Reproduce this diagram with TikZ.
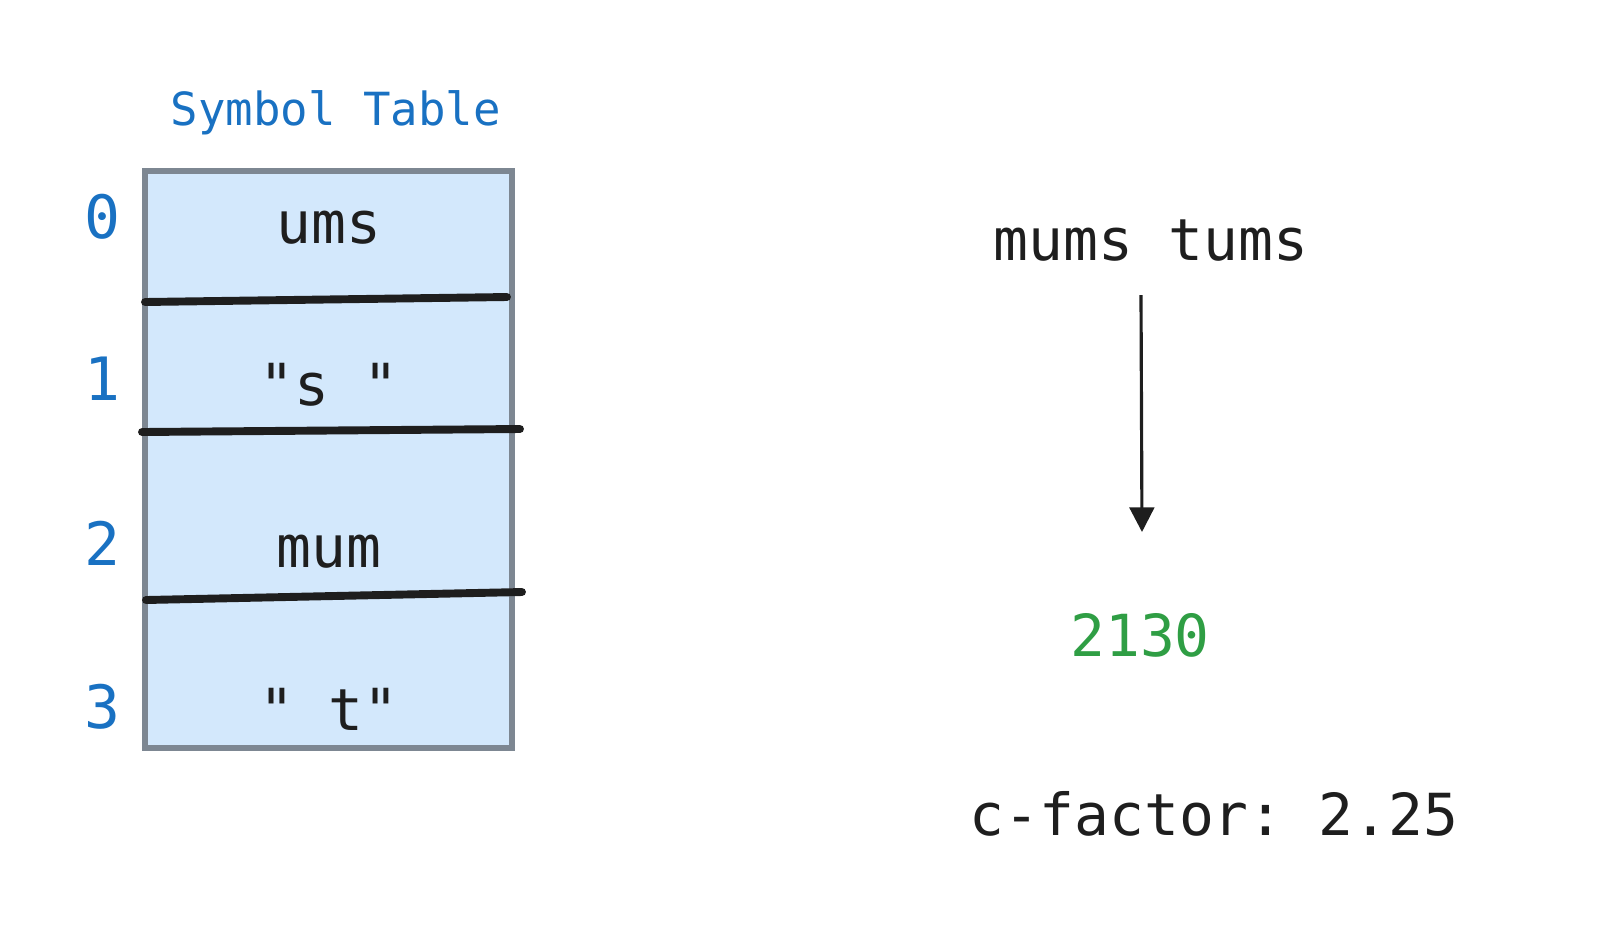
\documentclass[tikz,border=0pt]{standalone}
\usepackage{fontspec}
\setmonofont{DejaVu Sans Mono}
\usetikzlibrary{arrows.meta}

\definecolor{inkblue}{HTML}{1971C2}
\definecolor{inkgreen}{HTML}{2F9E44}
\definecolor{inkdark}{HTML}{1E1E1E}
\definecolor{cellfill}{HTML}{D3E8FC}
\definecolor{cellrim}{HTML}{7D8792}

\begin{document}
\begin{tikzpicture}[x=0.02cm, y=-0.02cm,
	txt/.style={inner sep=0, anchor=base, font=\ttfamily\fontsize{33}{40}\selectfont, text=inkdark},
	idx/.style={txt, text=inkblue, font=\ttfamily\fontsize{34}{40}\selectfont},
	divider/.style={draw=inkdark, line width=4.5pt, line cap=round}]
	\useasboundingbox (0,0) rectangle (1600,938);
	\coordinate (NW) at (145,171);
	\coordinate (SE) at (512,748);

	\draw [fill=cellfill, draw=cellrim, line width=3pt] (NW) rectangle (SE);
	\draw [divider] (145,302) -- (507,297);
	\draw [divider] (142,432) -- (520,429);
	\draw [divider] (146,600) -- (522,592);

	\node [txt, text=inkblue, font=\ttfamily\fontsize{26}{30}\selectfont] (title) at (336,125) {Symbol Table};

	\node [idx] (idx0) at (102,238) {0};
	\node [idx] (idx1) at (102,400) {1};
	\node [idx] (idx2) at (102,565) {2};
	\node [idx] (idx3) at (102,728) {3};

	\node [txt] (cell0) at (329,243) {ums};
	\node [txt] (cell1) at (329,405) {"s "};
	\node [txt] (cell2) at (329,567) {mum};
	\node [txt] (cell3) at (329,730) {" t"};

	\node [txt] (words) at (1151,260) {mums tums};
	\node [txt, text=inkgreen] (code) at (1140,656) {2130};
	\node [txt] (cfactor) at (1214,835) {c-factor: 2.25};

	\coordinate (arrbeg) at (1141,295);
	\coordinate (arrend) at (1142,532);
	\draw [inkdark, line width=1.8pt, -{Triangle[length=14pt, width=14pt]}] (arrbeg) -- (arrend);
\end{tikzpicture}
\end{document}
